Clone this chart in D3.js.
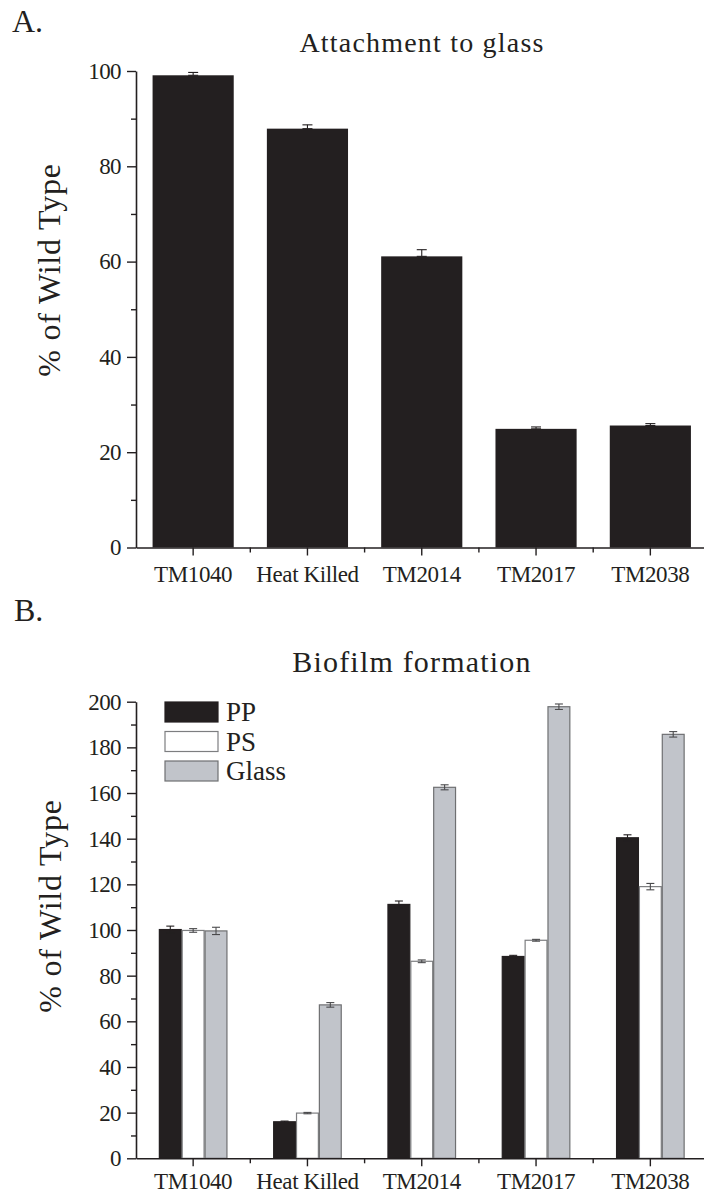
<!DOCTYPE html>
<html>
<head>
<meta charset="utf-8">
<script src="https://cdn.jsdelivr.net/npm/d3@7"></script>
<style>
  html, body { margin: 0; padding: 0; background: #fff; }
  svg { display: block; }
  text { font-family: "Liberation Serif", "Times New Roman", serif; fill: #231f20; }
</style>
</head>
<body>
<svg id="chart" width="704" height="1196"></svg>
<script>
const categories = ["TM1040", "Heat Killed", "TM2014", "TM2017", "TM2038"];

// Panel A: attachment to glass (% of wild type)
const attachValues = [99.1, 87.9, 61.1, 24.9, 25.6];
const attachErrors = [0.6, 0.8, 1.4, 0.4, 0.4];
const attachTicks = [0, 20, 40, 60, 80, 100];

// Panel B: biofilm formation (% of wild type)
const seriesNames = ["PP", "PS", "Glass"];
const ppValues = [100.2, 16.0, 111.2, 88.4, 140.4];
const ppErrors = [1.5, 0.3, 1.5, 0.5, 1.3];
const psValues = [99.8, 19.8, 86.3, 95.5, 119.0];
const psErrors = [0.8, 0.3, 0.6, 0.4, 1.4];
const glassValues = [99.6, 67.2, 162.5, 197.8, 185.7];
const glassErrors = [1.6, 1.0, 1.1, 1.2, 1.2];
const biofilmTicks = [0, 20, 40, 60, 80, 100, 120, 140, 160, 180, 200];

const seriesFill = { PP: "#231f20", PS: "#ffffff", Glass: "#c1c4ca" };
const seriesStroke = { PP: "#231f20", PS: "#7d7e80", Glass: "#6f7072" };
const ink = "#231f20";

const svg = d3.select("#chart");

function drawXAxis(g, x, y0, labelDy) {
  const ax = g.append("g").attr("transform", `translate(0,${y0})`)
    .call(d3.axisBottom(x).tickSize(8).tickPadding(8).tickSizeOuter(0));
  ax.select(".domain").attr("stroke", ink).attr("stroke-width", 1.6);
  ax.selectAll(".tick line").attr("stroke", ink).attr("stroke-width", 1.4);
  ax.selectAll(".tick text").attr("font-size", 23).attr("y", 0).attr("dy", labelDy)
    .attr("letter-spacing", -0.4);
  // minor ticks at band boundaries
  const centers = categories.map(c => x(c) + x.bandwidth() / 2);
  const bounds = centers.slice(1).map((c, i) => (c + centers[i]) / 2);
  g.append("g").selectAll("line").data(bounds).join("line")
    .attr("x1", d => d).attr("x2", d => d)
    .attr("y1", y0).attr("y2", y0 + 5)
    .attr("stroke", ink).attr("stroke-width", 1.4);
}

function drawYAxis(g, y, x0, majors, step) {
  const [lo, hi] = y.domain();
  const minors = d3.range(lo + step / 2, hi, step);
  const mn = g.append("g").attr("transform", `translate(${x0},0)`)
    .call(d3.axisLeft(y).tickValues(minors).tickSize(5).tickFormat(""));
  mn.select(".domain").remove();
  mn.selectAll(".tick line").attr("stroke", ink).attr("stroke-width", 1.4);
  const ax = g.append("g").attr("transform", `translate(${x0},0)`)
    .call(d3.axisLeft(y).tickValues(majors).tickSize(9).tickPadding(6).tickSizeOuter(0));
  ax.select(".domain").attr("stroke", ink).attr("stroke-width", 1.6);
  ax.selectAll(".tick line").attr("stroke", ink).attr("stroke-width", 1.4);
  ax.selectAll(".tick text").attr("font-size", 23).attr("letter-spacing", -0.6);
}

function errorBar(g, cx, yTop, yBot, cap, color) {
  g.append("line").attr("x1", cx).attr("x2", cx).attr("y1", yTop).attr("y2", yBot)
    .attr("stroke", color).attr("stroke-width", 1.1);
  g.append("line").attr("x1", cx - cap / 2).attr("x2", cx + cap / 2).attr("y1", yTop).attr("y2", yTop)
    .attr("stroke", color).attr("stroke-width", 1.1);
  g.append("line").attr("x1", cx - cap / 2).attr("x2", cx + cap / 2).attr("y1", yBot).attr("y2", yBot)
    .attr("stroke", color).attr("stroke-width", 1.1);
}

// ---------------- Panel A ----------------
{
  const g = svg.append("g");
  const x = d3.scaleBand().domain(categories).range([136, 707.5]).paddingInner(0.29).paddingOuter(0.145);
  const y = d3.scaleLinear().domain([0, 100]).range([547.5, 71]);

  g.append("text").attr("x", 12).attr("y", 32).attr("font-size", 32).text("A.");
  g.append("text").attr("x", 422).attr("y", 52).attr("text-anchor", "middle")
    .attr("font-size", 28).attr("letter-spacing", 1.2).text("Attachment to glass");
  g.append("text").attr("transform", `translate(60,270) rotate(-90)`)
    .attr("text-anchor", "middle").attr("font-size", 32).attr("letter-spacing", 0.8).text("% of Wild Type");

  g.append("g").selectAll("rect").data(categories).join("rect")
    .attr("x", d => x(d)).attr("width", x.bandwidth())
    .attr("y", (d, i) => y(attachValues[i]))
    .attr("height", (d, i) => y(0) - y(attachValues[i]))
    .attr("fill", "#231f20");

  const eb = g.append("g");
  categories.forEach((c, i) => {
    const cx = x(c) + x.bandwidth() / 2;
    errorBar(eb, cx, y(attachValues[i] + attachErrors[i]), y(attachValues[i]), 10, ink);
  });

  drawYAxis(g, y, 136, attachTicks, 20);
  drawXAxis(g, x, 547.5, 34);
}

// ---------------- Panel B ----------------
{
  const g = svg.append("g");
  const x = d3.scaleBand().domain(categories).range([136, 707.5]).paddingInner(0.4).paddingOuter(0.2);
  const x1 = d3.scaleBand().domain(seriesNames).range([0, x.bandwidth()]);
  const y = d3.scaleLinear().domain([0, 200]).range([1158.3, 701.7]);

  g.append("text").attr("x", 14).attr("y", 621).attr("font-size", 32).text("B.");
  g.append("text").attr("x", 412).attr("y", 672).attr("text-anchor", "middle")
    .attr("font-size", 30).attr("letter-spacing", 1.2).text("Biofilm formation");
  g.append("text").attr("transform", `translate(61,906) rotate(-90)`)
    .attr("text-anchor", "middle").attr("font-size", 32).attr("letter-spacing", 0.8).text("% of Wild Type");

  const seriesData = {
    PP: [ppValues, ppErrors],
    PS: [psValues, psErrors],
    Glass: [glassValues, glassErrors]
  };

  const bars = g.append("g");
  categories.forEach((c, i) => {
    seriesNames.forEach(s => {
      const v = seriesData[s][0][i];
      bars.append("rect")
        .attr("x", x(c) + x1(s) + 0.5).attr("width", x1.bandwidth() - 1)
        .attr("y", y(v)).attr("height", y(0) - y(v))
        .attr("fill", seriesFill[s]).attr("stroke", seriesStroke[s]).attr("stroke-width", 1.2);
    });
  });
  const eb = g.append("g");
  categories.forEach((c, i) => {
    seriesNames.forEach(s => {
      const v = seriesData[s][0][i], e = seriesData[s][1][i];
      const cx = x(c) + x1(s) + x1.bandwidth() / 2;
      errorBar(eb, cx, y(v + e), y(v - e), 8, s === "PP" ? ink : "#4a4a4c");
    });
  });

  // legend
  const lg = g.append("g");
  seriesNames.forEach((s, i) => {
    const yy = 702 + i * 29.5;
    lg.append("rect").attr("x", 165).attr("y", yy).attr("width", 53).attr("height", 20)
      .attr("fill", seriesFill[s]).attr("stroke", seriesStroke[s]).attr("stroke-width", 1.2);
    lg.append("text").attr("x", 226).attr("y", yy + 19).attr("font-size", 27).text(s);
  });

  drawYAxis(g, y, 136, biofilmTicks, 20);
  drawXAxis(g, x, 1158.3, 31);
}
</script>
</body>
</html>
